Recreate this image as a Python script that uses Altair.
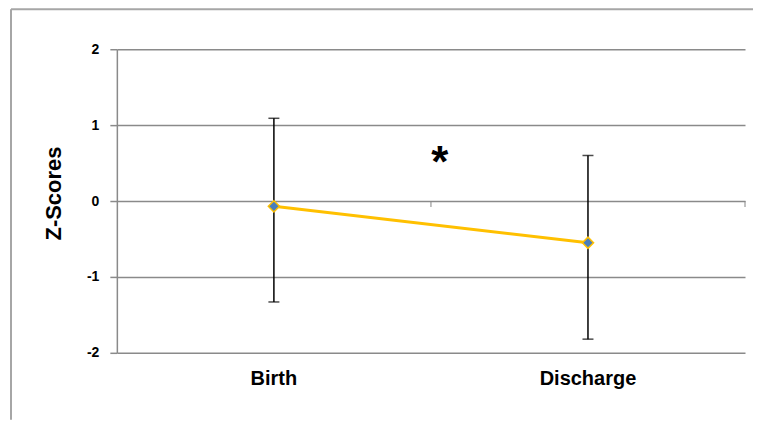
import altair as alt
import pandas as pd

categories = ["Birth", "Discharge"]
means = [-0.07, -0.55]
upper = [1.09, 0.60]
lower = [-1.33, -1.82]
y_ticks = [-2, -1, 0, 1, 2]
star_label = "*"
star_y = 0.60

FONT = "Liberation Sans"

df = pd.DataFrame({"cat": categories, "mean": means, "hi": upper, "lo": lower})
star_df = pd.DataFrame({"cat": [categories[0]], "y": [star_y], "t": [star_label]})
one = pd.DataFrame({"a": [0]})

xenc = alt.X("cat:N", sort=categories,
             scale=alt.Scale(paddingInner=0, paddingOuter=0),
             axis=alt.Axis(title=None, domain=False, ticks=False, labelAngle=0,
                           labelFont=FONT, labelFontSize=20, labelFontWeight="bold",
                           labelColor="#000000", labelPadding=16, grid=False))
yscale = alt.Scale(domain=[-2, 2], nice=False, zero=False)
yaxis = alt.Axis(title="Z-Scores", values=y_ticks, labelExpr="'' + datum.value", grid=True,
                 gridColor="#8a8a8a", gridWidth=1.5, domainColor="#8a8a8a",
                 domainWidth=1.5, tickColor="#8a8a8a", tickWidth=1.5, tickSize=7,
                 labelFont=FONT, labelFontSize=14, labelFontWeight="bold",
                 labelColor="#000000", labelPadding=11,
                 titleFont=FONT, titleFontSize=22, titleFontWeight="bold",
                 titleColor="#000000", titlePadding=21, titleY=144)

base = alt.Chart(df)

line = base.mark_line(color="#FFC000", strokeWidth=3).encode(
    x=xenc, y=alt.Y("mean:Q", scale=yscale, axis=yaxis))

err = base.mark_rule(color="#000000", strokeWidth=1.5).encode(
    x=alt.X("cat:N", sort=categories), y="lo:Q", y2="hi:Q")

cap_hi = base.mark_tick(color="#000000", orient="horizontal", size=11, thickness=1.5).encode(
    x=alt.X("cat:N", sort=categories), y="hi:Q")
cap_lo = base.mark_tick(color="#000000", orient="horizontal", size=11, thickness=1.5).encode(
    x=alt.X("cat:N", sort=categories), y="lo:Q")

cat_ticks = base.mark_tick(color="#8a8a8a", orient="vertical", size=6, thickness=1.5,
                           yOffset=3).encode(
    x=alt.X("cat:N", sort=categories, bandPosition=1), y=alt.datum(0))

pts = base.mark_point(shape="diamond", filled=True, size=125, fill="#4A7EBB",
                      stroke="#FFC000", strokeWidth=1.5, opacity=1).encode(
    x=alt.X("cat:N", sort=categories), y="mean:Q")

star = alt.Chart(star_df).mark_text(font=FONT, fontSize=44, fontWeight="bold",
                                    color="#000000", baseline="middle", dx=9, dy=9).encode(
    x=alt.X("cat:N", sort=categories, bandPosition=1), y="y:Q", text="t:N")

border_top = alt.Chart(one).mark_rule(color="#a6a6a6", strokeWidth=2).encode(
    x=alt.value(-106), x2=alt.value(637), y=alt.value(-40))
border_left = alt.Chart(one).mark_rule(color="#a6a6a6", strokeWidth=2).encode(
    x=alt.value(-106), y=alt.value(-40), y2=alt.value(371))

chart = alt.layer(border_top, border_left, line, cat_ticks, err, cap_hi, cap_lo, pts, star).properties(
    width=629, height=304, padding={"left": 2, "top": 0, "right": 0, "bottom": 0}
).configure_view(stroke=None)

chart.save("out.html", embed_options={"renderer": "svg", "actions": False})
